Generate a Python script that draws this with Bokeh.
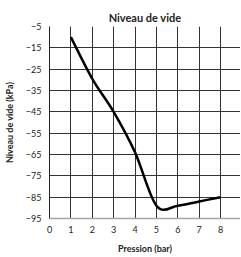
from bokeh.plotting import figure
from bokeh.models import ColumnDataSource, FixedTicker, Range1d
from bokeh.embed import file_html
from bokeh.resources import INLINE

# Data
pression = [1, 2, 3, 4, 5, 6, 7, 8]
vide = [-10, -29.5, -45, -64, -89, -89, -87, -85]
x_ticks = [0, 1, 2, 3, 4, 5, 6, 7, 8, 9]
y_ticks = [-95, -85, -75, -65, -55, -45, -35, -25, -15, -5]
title_text = "Niveau de vide"
x_label = "Pression (bar)"
y_label = "Niveau de vide (kPa)"

# Smoothed line (Catmull-Rom -> cubic Bezier segments), like a spreadsheet "smoothed line"
n = len(pression)
x0, y0, x1, y1, cx0, cy0, cx1, cy1 = [], [], [], [], [], [], [], []
for i in range(n - 1):
    pxm = pression[max(i - 1, 0)]; pym = vide[max(i - 1, 0)]
    pxa = pression[i]; pya = vide[i]
    pxb = pression[i + 1]; pyb = vide[i + 1]
    pxp = pression[min(i + 2, n - 1)]; pyp = vide[min(i + 2, n - 1)]
    x0.append(pxa); y0.append(pya); x1.append(pxb); y1.append(pyb)
    cx0.append(pxa + (pxb - pxm) / 6.0); cy0.append(pya + (pyb - pym) / 6.0)
    cx1.append(pxb - (pxp - pxa) / 6.0); cy1.append(pyb - (pyp - pya) / 6.0)
src = ColumnDataSource(dict(x0=x0, y0=y0, x1=x1, y1=y1, cx0=cx0, cy0=cy0, cx1=cx1, cy1=cy1))

FONT = "Lato"

p = figure(frame_width=191, frame_height=192, output_backend="svg", toolbar_location=None,
           x_range=Range1d(0, 8.93), y_range=Range1d(-95, -5),
           min_border_left=45, min_border_right=0, min_border_top=26, min_border_bottom=0)

p.title.text = title_text
p.title.align = "center"
p.title.text_font = FONT
p.title.text_font_size = "11px"
p.title.text_font_style = "bold"
p.title.text_color = "#222222"
p.title.standoff = 6
p.title.offset = 0

p.outline_line_color = None
p.background_fill_color = "white"
p.border_fill_color = "white"

p.bezier(x0="x0", y0="y0", x1="x1", y1="y1", cx0="cx0", cy0="cy0", cx1="cx1", cy1="cy1",
         source=src, line_color="black", line_width=2.5)

for ax in (p.xaxis, p.yaxis):
    ax.major_tick_line_color = None
    ax.minor_tick_line_color = None
    ax.major_tick_out = 0
    ax.major_tick_in = 0
    ax.minor_tick_out = 0
    ax.minor_tick_in = 0
    ax.major_label_text_font = FONT
    ax.major_label_text_font_size = "9px"
    ax.major_label_text_color = "#222222"
    ax.axis_label_text_font = FONT
    ax.axis_label_text_font_size = "9px"
    ax.axis_label_text_font_style = "bold"
    ax.axis_label_text_color = "#222222"

p.xaxis.ticker = FixedTicker(ticks=x_ticks)
p.yaxis.ticker = FixedTicker(ticks=y_ticks)
p.xaxis.axis_label = x_label
p.yaxis.axis_label = y_label
p.xaxis.axis_line_color = "#a6a6a6"
p.xaxis.axis_line_width = 1.5
p.yaxis.axis_line_color = "#222222"
p.yaxis.axis_line_width = 1
p.xaxis.major_label_standoff = 7
p.yaxis.major_label_standoff = 8
p.xaxis.axis_label_standoff = 7
p.yaxis.axis_label_standoff = 8

p.xgrid.ticker = FixedTicker(ticks=x_ticks)
p.ygrid.ticker = FixedTicker(ticks=y_ticks)
p.xgrid.grid_line_color = "#333333"
p.ygrid.grid_line_color = "#333333"
p.xgrid.grid_line_width = 1
p.ygrid.grid_line_width = 1

open("out.html", "w").write(file_html(p, INLINE))
